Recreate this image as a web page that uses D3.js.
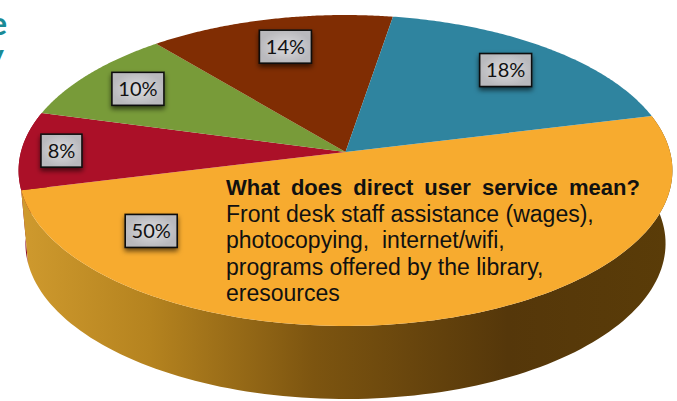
<!DOCTYPE html>
<html>
<head>
<meta charset="utf-8">
<script src="https://cdn.jsdelivr.net/npm/d3@7"></script>
<style>
  html, body { margin: 0; padding: 0; background: #fff; }
  svg { display: block; }
  text { font-family: "Liberation Sans", Arial, sans-serif; fill: #111; }
</style>
</head>
<body>
<svg width="677" height="401"></svg>
<script>
// slice sizes, the boxes show them rounded
const shares = [50, 8.1, 9.8, 13.6, 18.5];
const labels = ['50%', '8%', '10%', '14%', '18%'];
const colors = ['#f7ab2f', '#ab1028', '#789b39', '#802d03', '#2f849f'];
const noteTitle = 'What does direct user service mean?';
const noteLines = [
  'Front desk staff assistance (wages),',
  'photocopying,  internet/wifi,',
  'programs offered by the library,',
  'eresources'
];

const svg = d3.select('svg');
const toRad = Math.PI / 180;

// the pie is tilted, so the centre does not sit in the middle of the ellipse
const cx = 345.5, cy = 152, rx = 324.6, ry = 135.2, k = -0.119;
function project(angle, r, scaleX = 1, scaleY = 1, top = cy) {
  const u = r * Math.sin(angle), v = -r * Math.cos(angle);
  const w = 1 + k * v;
  return [cx + scaleX * rx * u / w, (top + scaleY * ry * v) / w];
}

const arcs = d3.pie().sort(null).value(d => d)
  .startAngle(76 * toRad)
  .endAngle(436 * toRad)(shares);

const line = d3.line();

function rim(a0, a1, scaleX, scaleY, top) {
  return d3.range(0, 121).map(i => project(a0 + (a1 - a0) * i / 120, 1, scaleX, scaleY, top));
}

const defs = svg.append('defs');

const sideGrad = defs.append('linearGradient')
  .attr('id', 'side')
  .attr('gradientUnits', 'userSpaceOnUse')
  .attr('x1', 20).attr('x2', 670).attr('y1', 0).attr('y2', 0);
[[0, '#cf9a2e'], [0.2, '#b5831f'], [0.45, '#7d5510'], [0.75, '#55370a'], [1, '#5a3c08']]
  .forEach(s => sideGrad.append('stop').attr('offset', s[0]).attr('stop-color', s[1]));

const boxGrad = defs.append('radialGradient').attr('id', 'box');
boxGrad.append('stop').attr('offset', 0).attr('stop-color', '#dcdcdf');
boxGrad.append('stop').attr('offset', 1).attr('stop-color', '#b9b9bd');

const shadow = defs.append('filter').attr('id', 'shadow')
  .attr('x', '-30%').attr('y', '-30%').attr('width', '160%').attr('height', '170%');
shadow.append('feDropShadow')
  .attr('dx', 0).attr('dy', 3).attr('stdDeviation', 2.5)
  .attr('flood-color', '#000').attr('flood-opacity', 0.6);

// side wall, only the two front slices can be seen
[1, 0].forEach(i => {
  const a = arcs[i];
  const start = Math.max(a.startAngle, 76 * toRad);
  const end = Math.min(a.endAngle, 285 * toRad);
  const pts = rim(start, end, 1, 1, cy).concat(rim(end, start, 0.979, 0.936, 225));
  svg.append('path')
    .attr('d', line(pts) + 'Z')
    .attr('fill', i === 0 ? 'url(#side)' : '#8e0f25');
});

// top face
svg.selectAll('path.slice')
  .data(arcs)
  .enter()
    .append('path')
    .attr('class', 'slice')
    .attr('d', d => line([[cx, cy]].concat(rim(d.startAngle, d.endAngle, 1, 1, cy))) + 'Z')
    .attr('fill', (d, i) => colors[i]);

// teal letters of a heading cut off by the crop
svg.append('text').attr('x', 7).attr('y', 35).attr('text-anchor', 'end')
  .style('font-family', 'Lato').style('font-weight', 700).style('font-size', '33px')
  .style('fill', '#1a8a96').text('e');
svg.append('text').attr('x', 4).attr('y', 67).attr('text-anchor', 'end')
  .style('font-family', 'Lato').style('font-weight', 700).style('font-size', '33px')
  .style('fill', '#1a8a96').text('y');

// value boxes sit on the slice's middle angle, except 50% which was dragged aside
const labelRadius = [0.744, 0.876, 0.8, 0.775, 0.777];
const bigLabelAngle = 229.3 * toRad;

const boxes = svg.selectAll('g.box')
  .data(arcs)
  .enter()
    .append('g')
    .attr('class', 'box')
    .attr('transform', (d, i) => {
      const mid = i === 0 ? bigLabelAngle : (d.startAngle + d.endAngle) / 2;
      const p = project(mid, labelRadius[i]);
      return `translate(${p[0]},${p[1]})`;
    });

boxes.append('rect')
  .attr('x', (d, i) => i === 1 ? -20.5 : -26)
  .attr('y', -16.5)
  .attr('width', (d, i) => i === 1 ? 41 : 52)
  .attr('height', 33)
  .attr('fill', 'url(#box)')
  .attr('stroke', '#111')
  .attr('stroke-width', 1.6)
  .attr('filter', 'url(#shadow)');

boxes.append('text')
  .attr('text-anchor', 'middle')
  .attr('y', 7)
  .style('font-family', 'Lato')
  .style('font-size', '20px')
  .text((d, i) => labels[i]);

// note on the big slice
const noteY = [222, 248, 275, 301];
svg.append('text')
  .attr('x', 226).attr('y', 195)
  .style('font-weight', 700).style('font-size', '22px').style('word-spacing', '5px')
  .text(noteTitle);
svg.selectAll('text.note')
  .data(noteLines)
  .enter()
    .append('text')
    .attr('class', 'note')
    .attr('x', 226)
    .attr('y', (d, i) => noteY[i])
    .style('font-size', '23px')
    .style('white-space', 'pre')
    .text(d => d);
</script>
</body>
</html>
